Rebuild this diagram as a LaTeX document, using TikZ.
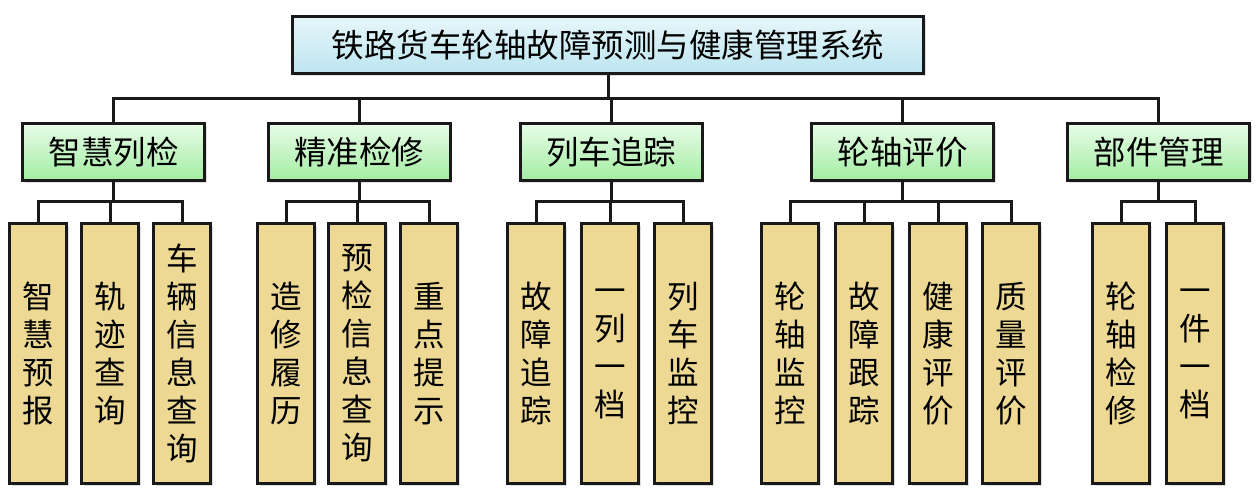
\documentclass[tikz,border=0pt]{standalone}
\usepackage{fontspec}
\usepackage{xcolor}
\usepackage{tikz}
\usetikzlibrary{positioning, shadows}
\newfontfamily\cjk{Noto Sans CJK SC}

\definecolor{rootTop}{HTML}{E6F6FA}
\definecolor{rootBot}{HTML}{BCE5F0}
\definecolor{midTop}{HTML}{E8FCE8}
\definecolor{midBot}{HTML}{A2EDA2}
\definecolor{leafEdge}{HTML}{EDD994}
\definecolor{leafMid}{HTML}{FFF4BC}

\tikzset{
  box/.style={draw=black!90, line width=3pt, inner sep=0pt, outer sep=0pt,
    drop shadow={shadow xshift=2pt, shadow yshift=-2pt, opacity=0.25}},
  rootbox/.style={box, top color=rootTop, bottom color=rootBot,
    minimum width=631pt, minimum height=57pt, font=\cjk\fontsize{32.5}{36}\selectfont},
  midbox/.style={box, top color=midTop, bottom color=midBot,
    minimum width=182pt, minimum height=57pt, font=\cjk\fontsize{32.5}{36}\selectfont},
  leafbox/.style={box, top color=leafEdge, middle color=leafMid, bottom color=leafEdge,
    minimum width=57pt, minimum height=260pt, align=center,
    font=\cjk\fontsize{31.5}{38}\selectfont},
  link/.style={line width=3pt, draw=black!90}
}

\begin{document}
\begin{tikzpicture}[x=1pt, y=-1pt]
    \useasboundingbox (0,0) rectangle (1260,493);

    % Root
    \node[rootbox] (root) at (608,45.3) {铁路货车轮轴故障预测与健康管理系统};

    % Second level
    \node[midbox] (zhjc) at (113.5,152) {智慧列检};
    \node[midbox] (jzjx) at (359,152) {精准检修};
    \node[midbox] (lczz) at (611,152) {列车追踪};
    \node[midbox] (lzpj) at (902.5,152) {轮轴评价};
    \node[midbox] (bjgl) at (1158.5,152) {部件管理};

    \foreach \m in {zhjc, jzjx, lczz, lzpj, bjgl}
        \draw[link] (root.south) -- ++(0,24.5) -| (\m.north);

    % Leaves
    \foreach \name/\x/\txt/\up in {
        a1/38/智\\慧\\预\\报/zhjc,
        a2/110/轨\\迹\\查\\询/zhjc,
        a3/182/车\\辆\\信\\息\\查\\询/zhjc,
        b1/286/造\\修\\履\\历/jzjx,
        b2/357/预\\检\\信\\息\\查\\询/jzjx,
        b3/429/重\\点\\提\\示/jzjx,
        c1/536/故\\障\\追\\踪/lczz,
        c2/610/一\\列\\一\\档/lczz,
        c3/683/列\\车\\监\\控/lczz,
        d1/790/轮\\轴\\监\\控/lzpj,
        d2/864/故\\障\\跟\\踪/lzpj,
        d3/938/健\\康\\评\\价/lzpj,
        d4/1011/质\\量\\评\\价/lzpj,
        e1/1121/轮\\轴\\检\\修/bjgl,
        e2/1195/一\\件\\一\\档/bjgl}
    {
        \node[leafbox] (\name) at (\x,353.5) {\txt};
        \draw[link] (\up.south) -- ++(0,20.5) -| (\name.north);
    }
\end{tikzpicture}
\end{document}
